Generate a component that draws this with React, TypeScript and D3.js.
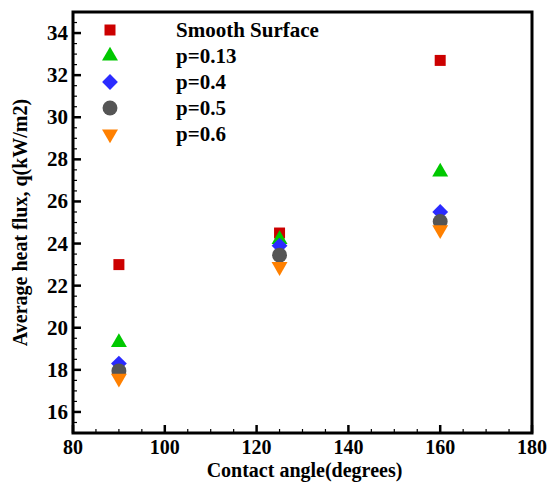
import React, { useEffect, useRef } from "react";
import * as d3 from "d3";

// contact angles (degrees)
const angles = [90, 125, 160];

// average heat flux values per series
const smooth = [23.0, 24.5, 32.7];
const p013 = [19.3, 24.2, 27.4];
const p04 = [18.3, 23.9, 25.5];
const p05 = [17.95, 23.45, 25.05];
const p06 = [17.6, 22.9, 24.65];

const seriesNames = ["Smooth Surface", "p=0.13", "p=0.4", "p=0.5", "p=0.6"];
const xTicks = [80, 100, 120, 140, 160, 180];
const yTicks = [16, 18, 20, 22, 24, 26, 28, 30, 32, 34];

const W = 552;
const H = 482;
const margin = { top: 12, right: 20, bottom: 49, left: 73 };
const font = "Liberation Serif";

const txt = (sel: any, size: number) =>
  sel.attr("font-family", font).attr("font-weight", "bold").attr("font-size", size);

const drawChart = (el: SVGSVGElement) => {
  const svg = d3.select(el);
  svg.selectAll("*").remove();

  const width = W - margin.left - margin.right;
  const height = H - margin.top - margin.bottom;

  const x = d3.scaleLinear().domain([80, 180]).range([0, width]);
  const y = d3.scaleLinear().domain([15, 35]).range([height, 0]);

  const g = svg.append("g").attr("transform", `translate(${margin.left},${margin.top})`);

  // ticks (inward, with minors)
  g.append("g")
    .selectAll("line")
    .data(d3.range(80, 181, 5))
    .join("line")
    .attr("x1", (d) => x(d)).attr("x2", (d) => x(d))
    .attr("y1", height).attr("y2", (d) => height - (d % 20 === 0 ? 8 : 4))
    .attr("stroke", "#000").attr("stroke-width", (d) => (d % 20 === 0 ? 2.5 : 1.2));

  g.append("g")
    .selectAll("line")
    .data(d3.range(15, 35.01, 0.5))
    .join("line")
    .attr("y1", (d) => y(d)).attr("y2", (d) => y(d))
    .attr("x1", 0).attr("x2", (d) => (d % 2 === 0 ? 8 : 4))
    .attr("stroke", "#000").attr("stroke-width", (d) => (d % 2 === 0 ? 2.5 : 1.2));

  // tick labels
  txt(g.append("g")
    .selectAll("text")
    .data(xTicks)
    .join("text")
    .attr("x", (d) => x(d)).attr("y", height + 21)
    .attr("text-anchor", "middle"), 20)
    .text((d: number) => d);

  txt(g.append("g")
    .selectAll("text")
    .data(yTicks)
    .join("text")
    .attr("x", -5).attr("y", (d) => y(d) + 7)
    .attr("text-anchor", "end"), 21)
    .text((d: number) => d);

  // frame
  g.append("rect")
    .attr("width", width).attr("height", height)
    .attr("fill", "none").attr("stroke", "#000").attr("stroke-width", 3);

  // axis titles
  txt(svg.append("text")
    .attr("x", margin.left + width / 2 + 2).attr("y", H - 5)
    .attr("text-anchor", "middle"), 20)
    .text("Contact angle(degrees)");

  txt(svg.append("text")
    .attr("transform", `translate(27,${margin.top + height / 2}) rotate(-90)`)
    .attr("text-anchor", "middle"), 20)
    .text("Average heat flux, q(kW/m2)");

  const seriesData = [smooth, p013, p04, p05, p06];
  const colors = ["#cc0000", "#00c800", "#2b2bff", "#555555", "#ff8000"];
  const symbols = [
    d3.symbol(d3.symbolSquare, 121),
    d3.symbol(d3.symbolTriangle, 110),
    d3.symbol(d3.symbolSquare, 125),
    d3.symbol(d3.symbolCircle, 175),
    d3.symbol(d3.symbolTriangle, 110),
  ];
  const rot = [0, 0, 45, 0, 180];

  seriesData.forEach((vals, i) => {
    g.append("g")
      .selectAll("path")
      .data(vals)
      .join("path")
      .attr("d", symbols[i]() as string)
      .attr("transform", (d, j) => `translate(${x(angles[j])},${y(d)}) rotate(${rot[i]})`)
      .attr("fill", colors[i]);
  });

  // legend
  const leg = g.append("g");
  seriesNames.forEach((name, i) => {
    const ly = 18 + i * 26;
    leg.append("path")
      .attr("d", symbols[i]() as string)
      .attr("transform", `translate(37,${ly}) rotate(${rot[i]})`)
      .attr("fill", colors[i]);
    txt(leg.append("text")
      .attr("x", 103).attr("y", ly + 7), 21)
      .text(name);
  });
};

function App() {
  const ref = useRef<SVGSVGElement>(null);
  useEffect(() => {
    if (ref.current) drawChart(ref.current);
  }, []);
  return (
    <svg ref={ref} width={W} height={H} style={{ position: "absolute", left: 0, top: 0, background: "#fff" }} />
  );
}

export default App;
